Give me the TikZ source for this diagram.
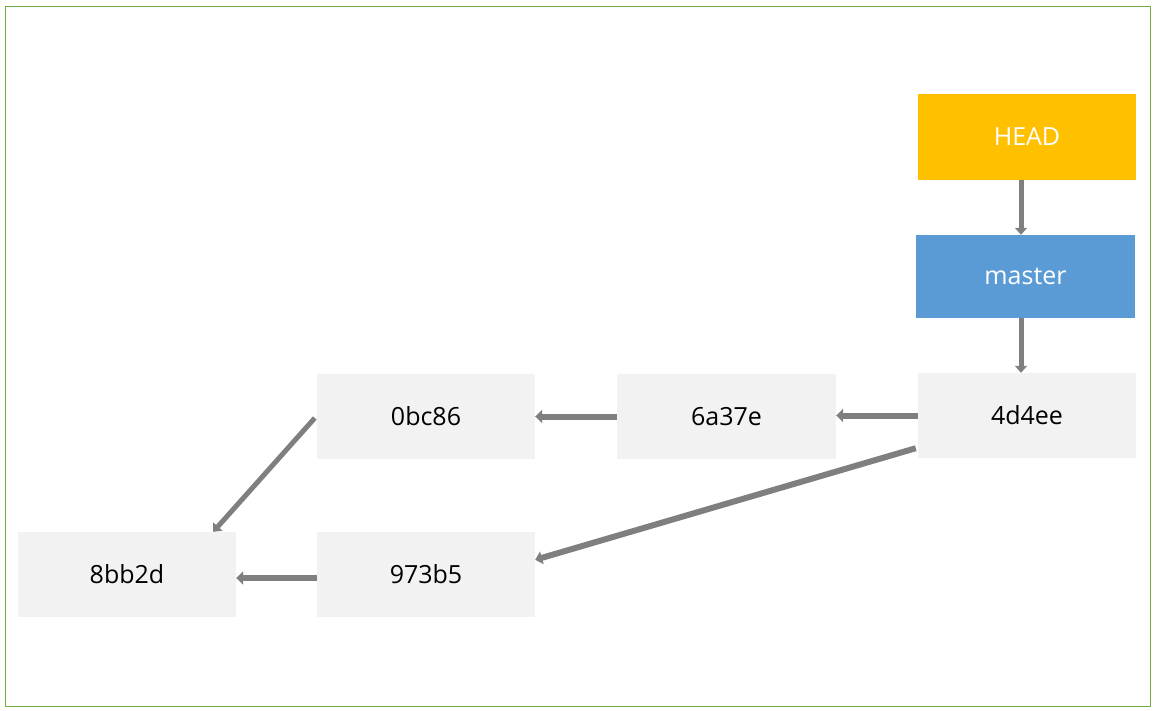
\documentclass[tikz,border=0pt]{standalone}
\usepackage{fontspec}
\setmainfont{Open Sans}
\usetikzlibrary{arrows.meta}
\definecolor{headc}{HTML}{FFC000}
\definecolor{masterc}{HTML}{5B9BD5}
\definecolor{commitc}{HTML}{F2F2F2}
\definecolor{arrowc}{HTML}{7F7F7F}
\definecolor{framec}{HTML}{70AD47}
\begin{document}
\begin{tikzpicture}[x=1pt,y=-1pt,
  box/.style={draw=none,minimum width=218pt,minimum height=85pt,inner sep=0pt,
    font=\fontsize{25}{30}\selectfont},
  commit/.style={box,fill=commitc,text=black},
  link/.style={draw=arrowc,line width=5pt,-{Triangle[length=7pt,width=12pt]}}]
\useasboundingbox (0,0) rectangle (1154,711);
\draw[framec,line width=1pt] (5,7) rectangle (1150,706);
\node[box,fill=headc,text=white,minimum height=86pt] (head) at (1027,137) {HEAD};
\node[box,fill=masterc,text=white,minimum width=219pt,minimum height=83pt] (master) at (1025.5,276.5) {master};
\node[commit] (c4d4ee) at (1027,415.5) {4d4ee};
\node[commit,minimum width=219pt] (c6a37e) at (726.5,416.5) {6a37e};
\node[commit] (c0bc86) at (426,416.5) {0bc86};
\node[commit] (c8bb2d) at (127,574.5) {8bb2d};
\node[commit] (c973b5) at (426,574.5) {973b5};
\draw[link] ([xshift=-6pt]head.south) -- ([xshift=-6pt]head.south |- master.north);
\draw[link] ([xshift=-4.5pt]master.south) -- ([xshift=-4.5pt]master.south |- c4d4ee.north);
\draw[link,line width=6pt,-{Triangle[length=7pt,width=13pt]}] (c4d4ee.west) -- (c4d4ee.west -| c6a37e.east);
\draw[link,line width=6pt,-{Triangle[length=7pt,width=13pt]}] (c6a37e.west) -- (c6a37e.west -| c0bc86.east);
\draw[link,line width=6pt,-{Triangle[length=7pt,width=13pt]}] ([xshift=-2pt,yshift=10pt]c4d4ee.south west) -- ([yshift=-28pt]c973b5.north east);
\draw[link] ([xshift=-2pt,yshift=-1.5pt]c0bc86.west) -- ([xshift=-23pt]c8bb2d.north east);
\draw[link,line width=6pt,-{Triangle[length=7pt,width=13pt]}] ([yshift=-3.5pt]c973b5.west) -- ([yshift=-3.5pt]c973b5.west -| c8bb2d.east);
\end{tikzpicture}
\end{document}
